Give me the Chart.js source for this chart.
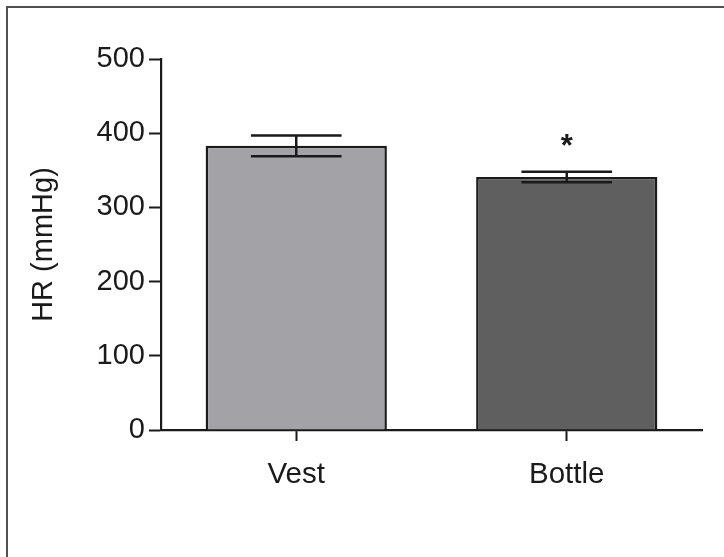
<!DOCTYPE html>
<html>
<head>
<meta charset="utf-8">
<script src="https://cdn.jsdelivr.net/npm/chart.js@4"></script>
<style>
  html, body { margin: 0; padding: 0; background: #ffffff; overflow: hidden; }
  #wrap { position: relative; width: 724px; height: 557px; }
  #frame {
    position: absolute; left: 6px; top: 6px; width: 760px; height: 600px;
    border-left: 2px solid #505050; border-top: 2px solid #505050;
    box-sizing: border-box;
  }
  #chart { position: absolute; left: 0; top: 0; }
</style>
</head>
<body>
<div id="wrap">
  <div id="frame"></div>
  <canvas id="chart" width="724" height="557"></canvas>
</div>
<script>
// Heart rate by feeding group: mean with SEM error bars
const categories = ['Vest', 'Bottle'];
const hrMean = [383, 341];
const hrSem = [14, 7];
const significance = ['', '*'];
const yTickValues = [0, 100, 200, 300, 400, 500];
const barColors = ['#a3a2a7', '#5f5f5f'];

const FONT = '"Liberation Sans", Arial, sans-serif';
const INK = '#1a1a1a';

// Draws SEM whiskers with caps and the significance marks above them
const errorBarPlugin = {
  id: 'errorBars',
  afterDatasetsDraw(chart) {
    const ctx = chart.ctx;
    const y = chart.scales.y;
    const meta = chart.getDatasetMeta(0);
    ctx.save();
    ctx.strokeStyle = INK;
    ctx.lineWidth = 2.5;
    meta.data.forEach((bar, i) => {
      const cx = bar.x;
      const half = bar.width * 0.25;
      const top = y.getPixelForValue(hrMean[i] + hrSem[i]);
      const bottom = y.getPixelForValue(hrMean[i] - hrSem[i]);
      ctx.beginPath();
      ctx.moveTo(cx, top); ctx.lineTo(cx, bottom);
      ctx.moveTo(cx - half, top); ctx.lineTo(cx + half, top);
      ctx.moveTo(cx - half, bottom); ctx.lineTo(cx + half, bottom);
      ctx.stroke();
      if (significance[i]) {
        ctx.fillStyle = INK;
        ctx.font = 'bold 31px ' + FONT;
        ctx.textAlign = 'center';
        ctx.textBaseline = 'alphabetic';
        ctx.fillText(significance[i], cx, top - 16);
      }
    });
    ctx.restore();
  }
};

new Chart(document.getElementById('chart'), {
  type: 'bar',
  data: {
    labels: categories,
    datasets: [{
      data: hrMean,
      backgroundColor: barColors,
      borderColor: INK,
      borderWidth: { top: 2.5, left: 2.5, right: 2.5, bottom: 0 },
      borderSkipped: false,
      categoryPercentage: 1,
      barPercentage: 0.67
    }]
  },
  options: {
    responsive: false,
    animation: false,
    layout: { padding: { left: 0, top: 59, right: 22, bottom: 47 } },
    plugins: { legend: { display: false }, tooltip: { enabled: false } },
    scales: {
      x: {
        offset: true,
        grid: { offset: false, drawOnChartArea: false, drawTicks: true, tickLength: 11, tickColor: INK, tickWidth: 2 },
        border: { color: INK, width: 2.2 },
        ticks: { color: INK, font: { family: FONT, size: 29.5 }, padding: 16 },
        afterFit(s) { s.height = 80; }
      },
      y: {
        min: 0,
        max: 500,
        afterBuildTicks(s) { s.ticks = yTickValues.map(v => ({ value: v })); },
        grid: { drawOnChartArea: false, drawTicks: true, tickLength: 12, tickColor: INK, tickWidth: 2 },
        border: { color: INK, width: 2.2 },
        ticks: { color: INK, font: { family: FONT, size: 29 }, padding: 4 },
        title: {
          display: true,
          text: 'HR (mmHg)',
          color: INK,
          font: { family: FONT, size: 29 },
          padding: { top: 27, bottom: 0 }
        },
        afterFit(s) { s.width = 161; }
      }
    }
  },
  plugins: [errorBarPlugin]
});
</script>
</body>
</html>
